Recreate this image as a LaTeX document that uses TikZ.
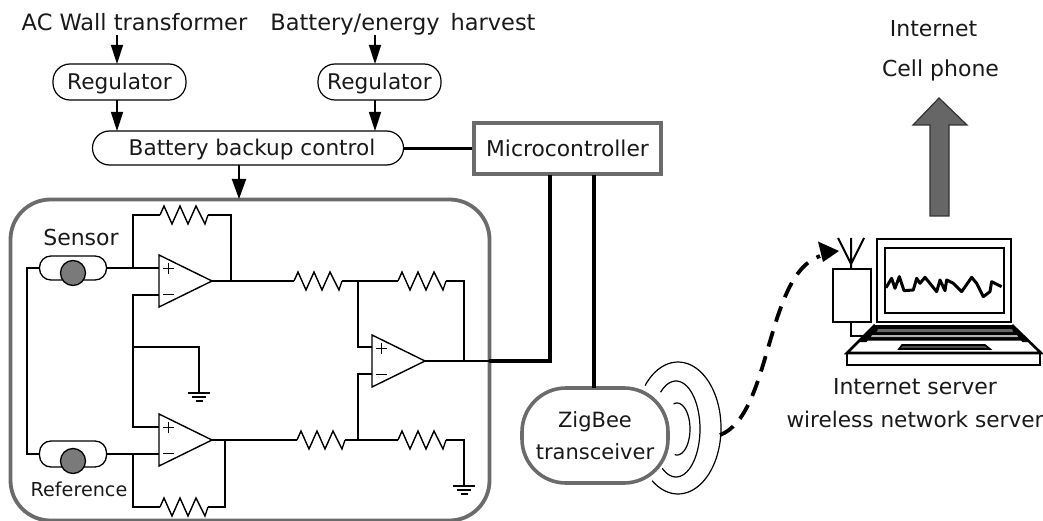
\documentclass[tikz,border=0pt]{standalone}
\usepackage{fontspec}
\setmainfont{DejaVu Sans}
\usetikzlibrary{arrows.meta,calc}
\definecolor{boxgray}{gray}{0.42}
\tikzset{
  x=1pt,y=-1pt,
  capbox/.style={text height=16pt,text depth=0pt},
  txt/.style={inner sep=0pt,capbox,font=\fontsize{22}{26}\selectfont,text=black!90},
  toptxt/.style={inner sep=0pt,capbox,font=\fontsize{22.5}{26}\selectfont,text=black!90},
  smalltxt/.style={inner sep=0pt,text height=14pt,text depth=0pt,font=\fontsize{19.2}{22}\selectfont,text=black!90},
  pill/.style={draw,line width=1.2pt,rounded corners=17pt,inner sep=0pt,capbox,font=\fontsize{21.6}{25}\selectfont,text=black!90},
  thin wire/.style={line width=1.4pt,line join=miter},
  heavy/.style={line width=3.6pt},
  flowarrow/.style={line width=1.4pt,-{Triangle[length=19pt,width=12pt]}},
  bigflow/.style={line width=2pt,-{Triangle[length=20pt,width=14pt]}},
  gbox/.style={draw=boxgray,line width=3.6pt,inner sep=0pt,font=\fontsize{21.8}{25}\selectfont,text=black!90},
  lap/.style={line width=2.6pt,line join=miter},
}
\newcommand{\opamp}[2]{% x, y centre of input side
  \draw[line width=1.4pt,fill=white,line join=miter] (#1,#2-26)--(#1+53,#2)--(#1,#2+26)--cycle;
  \draw[line width=.9pt] (#1+4,#2-13)--(#1+15,#2-13) (#1+9.5,#2-18.5)--(#1+9.5,#2-7.5) (#1+4,#2+13.5)--(#1+15,#2+13.5);
}
\newcommand{\myres}[3]{% name, x, y
  \coordinate (#1w) at (#2,#3); \coordinate (#1e) at (#2+48,#3);
  \draw[thin wire] (#2,#3)--++(4,-9)--++(8,18)--++(8,-18)--++(8,18)--++(8,-18)--++(9,18)--++(3,-9);
}
\newcommand{\myground}[2]{%
  \draw[line width=1.2pt] (#1-11,#2)--(#1+11,#2) (#1-7,#2+4)--(#1+7,#2+4) (#1-3.5,#2+8)--(#1+3.5,#2+8);
}
\newcommand{\sensorpill}[5]{% name, centre x, centre y pill, circle y, height
  \node[draw,line width=1.3pt,minimum width=67pt,minimum height=#5pt,rounded corners=11.5pt,inner sep=0pt] (#1) at (#2,#3) {};
  \node[draw,line width=1.3pt,fill=black!52,circle,minimum size=25pt,inner sep=0pt] (#1c) at (#2,#4) {};
}
\begin{document}
\begin{tikzpicture}
\useasboundingbox (0,0) rectangle (1043,521);
% top texts
\node[toptxt] (ac) at (134.5,23) {AC Wall transformer};
\node[toptxt] (bat) at (403,23) {Battery/energy\, harvest};
\node[pill,minimum width=133pt,minimum height=36pt] (r1) at (119.5,82) {Regulator};
\node[pill,minimum width=123pt,minimum height=36pt] (r2) at (379.5,82) {Regulator};
\node[pill,minimum width=311pt,minimum height=34pt] (bbc) at (248,148) {\hspace*{8pt}Battery backup control};
\node[gbox,capbox,minimum width=187pt,minimum height=51pt] (mc) at (567.5,148.5) {Microcontroller};
\node[draw=boxgray,line width=3.8pt,minimum width=479pt,minimum height=321pt,rounded corners=40pt,inner sep=0pt] (panel) at (250,360) {};
\node[gbox,rounded corners=44pt,minimum width=146pt,minimum height=95pt,align=center,font=\fontsize{21}{32}\selectfont] (zb) at (595,435.5) {ZigBee\\transceiver};
% top arrows
\coordinate (a1) at (117,35); \coordinate (a2) at (117,64); \coordinate (a3) at (117,100); \coordinate (a4) at (117,131);
\coordinate (b1) at (375,35); \coordinate (b2) at (375,64); \coordinate (b3) at (375,100); \coordinate (b4) at (375,131);
\coordinate (c1) at (239,165); \coordinate (c2) at (239,199);
\draw[flowarrow] (a1)--(a2);
\draw[flowarrow] (a3)--(a4);
\draw[flowarrow] (b1)--(b2);
\draw[flowarrow] (b3)--(b4);
\draw[bigflow] (c1)--(c2);
\draw[heavy] (bbc.east |- mc.west)--(mc.west);
\coordinate (mc1) at (550,175); \coordinate (mc2) at (594,175); \coordinate (zbt) at (594,388);
\coordinate (out) at (489,361); \coordinate (outc) at (550,361);
\draw[heavy,line join=miter] (mc1)--(outc)--(out);
\draw[heavy] (mc2)--(zbt);
% sensors
\sensorpill{s1}{73}{268}{273}{24}
\sensorpill{s2}{73}{454}{461}{26}
\node[txt] (sens) at (81,237) {Sensor};
\node[smalltxt] (ref) at (79,489) {Reference};
% op amps
\opamp{159}{281}
\opamp{159}{440}
\opamp{372}{361}
\coordinate (j1) at (133,268); \coordinate (j2) at (133,295); \coordinate (j3) at (133,347); \coordinate (j4) at (133,427);
\coordinate (j5) at (133,454); \coordinate (gnd1) at (199,393); \coordinate (g1t) at (199,347);
\myres{r1a}{160}{215}
\myres{r1b}{160}{507}
\myres{r2a}{294}{281}
\myres{r2b}{398}{281}
\myres{r3a}{297}{440}
\myres{r3b}{398}{440}
\draw[thin wire] (s1.west)-|(27,454)--(s2.west);
\draw[thin wire] (s1.east)--(159,268);
\draw[thin wire] (s2.east)--(159,454);
\draw[thin wire] (j1)--(133,215)--(r1aw);
\draw[thin wire] (r1ae)--(231,215)--(231,281);
\draw[thin wire] (212,281)--(r2aw);
\draw[thin wire] (159,295)--(j2)--(j4)--(159,427);
\draw[thin wire] (j3)--(g1t)--(gnd1);
\myground{199}{393}
\draw[thin wire] (j5)--(133,507)--(r1bw);
\draw[thin wire] (r1be)--(225,507)--(225,440);
\draw[thin wire] (212,440)--(r3aw);
\draw[thin wire] (r2ae)--(r2bw);
\draw[thin wire] (r3ae)--(r3bw);
\draw[thin wire] (358,281)--(358,347)--(372,347);
\draw[thin wire] (358,440)--(358,374)--(372,374);
\draw[thin wire] (r2be)--(464,281)--(464,361);
\draw[thin wire] (425,361)--(out);
\draw[thin wire] (r3be)--(464,440)--(464,486);
\myground{464}{486}
% waves
\draw[line width=1.2pt] plot[smooth,domain=-140:127,samples=60] ({678+43*cos(\x)},{428+66*sin(\x)});
\draw[line width=1.2pt] plot[smooth,domain=-130:125,samples=50] ({676+24*cos(\x)},{429+48*sin(\x)});
\draw[line width=1.2pt] plot[smooth,domain=-105:100,samples=40] ({677+13*cos(\x)},{429+26*sin(\x)});
% dashed link
\coordinate (wave) at (720,435);
\coordinate (ant) at (838,251);
\draw[line width=3.8pt,dash pattern=on 16pt off 10pt] (wave) .. controls (772,415) and (765,275) .. (820,256);
\fill (839,251)--(818,241.5)--(823,262)--cycle;
% big arrow
\coordinate (ba1) at (939,216); \coordinate (ba2) at (939,98);
\draw[line width=1.2pt,draw=black!80,fill=black!60,line join=miter] (930,216)--(930,125)--(913,125)--(939,98)--(967,125)--(949,125)--(949,216)--cycle;
% radio
\node[draw,line width=2pt,minimum width=38pt,minimum height=53pt,inner sep=0pt] (radio) at (852,295.5) {};
\coordinate (st) at (851,238); \coordinate (lft) at (838,238); \coordinate (rgt) at (864,238); \coordinate (apex) at (851,264);
\draw[line width=2pt] (lft)--(apex)--(rgt) (st)--(851,269);
\coordinate (lapin) at (870,336);
\draw[line width=1.5pt] (851,322)|-(lapin);
% laptop
\draw[lap] (877,239) rectangle (1011,322);
\draw[lap] (885,248) rectangle (1004,313);
\fill[black] (875,325)--(1012,325)--(1029,342)--(859,342)--cycle;
\fill[black!60] (878,329)--(1012,329)--(1013,332)--(877,332)--cycle;
\fill[black!30] (872,335)--(1017,335)--(1018,337)--(871,337)--cycle;
\fill[white] (868,340.5)--(1021,340.5)--(1023,343)--(866,343)--cycle;
\draw[line width=1.6pt,fill=black!70] (902,345)--(985,345)--(990,349)--(899,349)--cycle;
\draw[lap] (875,325)--(847,353)--(1041,353)--(1012,325);
\draw[lap] (847,353) rectangle (1040,365);
\begin{scope}[shift={(780,220)},x=.3333pt,y=-.3333pt]
\draw[line width=3pt,line join=round] (318,203)--(335,175)--(345,205)--(358,170)--(372,212)--(400,210)--(410,175)--(420,190)--(435,172)--(470,215)--(480,180)--(495,212)--(500,180)--(520,190)--(545,215)--(575,172)--(590,190)--(610,230)--(630,215)--(635,185)--(665,200);
\end{scope}
% labels
\node[txt] (inet) at (933.5,29) {Internet};
\node[txt] (cell) at (940.5,69) {Cell phone};
\node[txt] (srv) at (915,386) {Internet server};
\node[txt,font=\fontsize{21.6}{26}\selectfont] (wns) at (915,419) {wireless network server};
\end{tikzpicture}
\end{document}
